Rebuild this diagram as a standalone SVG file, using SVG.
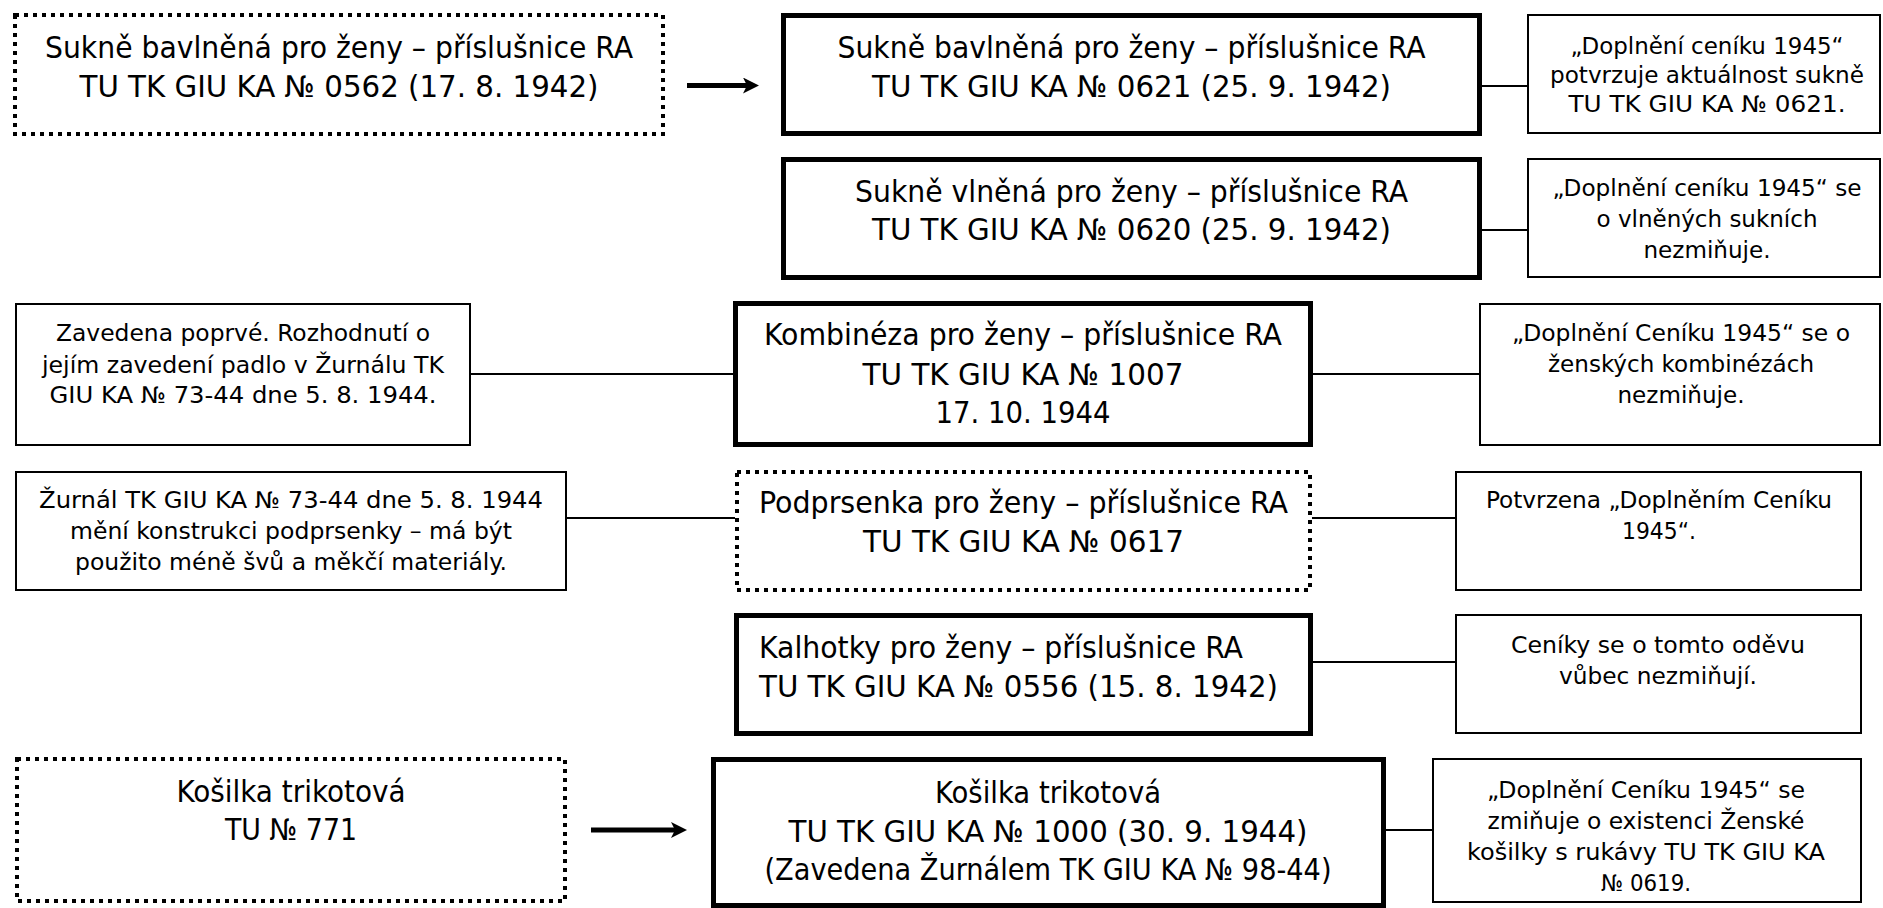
<svg xmlns="http://www.w3.org/2000/svg" width="1883" height="908" viewBox="0 0 1883 908">
<style>
text{font-family:"DejaVu Sans Condensed","DejaVu Sans",sans-serif;fill:#000}
.m{font-size:30px;text-anchor:middle}
.ml{font-size:30px;text-anchor:start}
.n{font-size:23px;text-anchor:middle}
.thick{fill:#fff;stroke:#000;stroke-width:5}
.dot{fill:#fff;stroke:#000;stroke-width:4;stroke-dasharray:4 5}
.note{fill:#fff;stroke:#000;stroke-width:2}
.con{stroke:#000;stroke-width:2;fill:none}
.arr{stroke:#000;stroke-width:5;fill:none;marker-end:url(#ah)}
</style>
<defs>
<marker id="ah" viewBox="0 0 16 16" refX="8" refY="8" markerWidth="16" markerHeight="16" markerUnits="userSpaceOnUse" orient="auto">
<path d="M0,0 L16,8 L0,16 L4,8 Z" fill="#000"/>
</marker>
</defs>
<rect width="1883" height="908" fill="#fff"/>

<g id="connectors">
<line class="arr" x1="687" y1="85.5" x2="751" y2="85.5"/>
<line class="arr" x1="591" y1="830" x2="679" y2="830"/>
<line class="con" x1="1482" y1="86" x2="1528" y2="86"/>
<line class="con" x1="1482" y1="230" x2="1528" y2="230"/>
<line class="con" x1="471" y1="374" x2="733" y2="374"/>
<line class="con" x1="1313" y1="374" x2="1479" y2="374"/>
<line class="con" x1="567" y1="518" x2="735" y2="518"/>
<line class="con" x1="1312" y1="518" x2="1455" y2="518"/>
<line class="con" x1="1313" y1="662" x2="1455" y2="662"/>
<line class="con" x1="1386" y1="830" x2="1432" y2="830"/>
</g>

<g id="node-skirt-cotton-old">
<rect class="dot" x="15" y="15" width="648" height="119"/>
<text class="m" x="339" y="58" textLength="588" lengthAdjust="spacingAndGlyphs">Sukně bavlněná pro ženy – příslušnice RA</text>
<text class="m" x="339" y="97" textLength="519" lengthAdjust="spacingAndGlyphs">TU TK GIU KA № 0562 (17. 8. 1942)</text>
</g>

<g id="node-skirt-cotton">
<rect class="thick" x="783.5" y="15.5" width="696" height="118"/>
<text class="m" x="1131.5" y="58" textLength="588" lengthAdjust="spacingAndGlyphs">Sukně bavlněná pro ženy – příslušnice RA</text>
<text class="m" x="1131.5" y="97" textLength="519" lengthAdjust="spacingAndGlyphs">TU TK GIU KA № 0621 (25. 9. 1942)</text>
</g>

<g id="note-skirt-cotton">
<rect class="note" x="1528" y="15" width="352" height="118"/>
<text class="n" x="1707" y="54" textLength="273" lengthAdjust="spacingAndGlyphs">„Doplnění ceníku 1945“</text>
<text class="n" x="1707" y="83" textLength="314" lengthAdjust="spacingAndGlyphs">potvrzuje aktuálnost sukně</text>
<text class="n" x="1707" y="112" textLength="277" lengthAdjust="spacingAndGlyphs">TU TK GIU KA № 0621.</text>
</g>

<g id="node-skirt-wool">
<rect class="thick" x="783.5" y="159.5" width="696" height="118"/>
<text class="m" x="1131.5" y="202" textLength="553" lengthAdjust="spacingAndGlyphs">Sukně vlněná pro ženy – příslušnice RA</text>
<text class="m" x="1131.5" y="240" textLength="519" lengthAdjust="spacingAndGlyphs">TU TK GIU KA № 0620 (25. 9. 1942)</text>
</g>

<g id="note-skirt-wool">
<rect class="note" x="1528" y="159" width="352" height="118"/>
<text class="n" x="1707" y="196" textLength="309" lengthAdjust="spacingAndGlyphs">„Doplnění ceníku 1945“ se</text>
<text class="n" x="1707" y="227" textLength="221" lengthAdjust="spacingAndGlyphs">o vlněných sukních</text>
<text class="n" x="1707" y="258" textLength="127" lengthAdjust="spacingAndGlyphs">nezmiňuje.</text>
</g>

<g id="note-overall-left">
<rect class="note" x="16" y="304" width="454" height="141"/>
<text class="n" x="243" y="341" textLength="374" lengthAdjust="spacingAndGlyphs">Zavedena poprvé. Rozhodnutí o</text>
<text class="n" x="243" y="373" textLength="402" lengthAdjust="spacingAndGlyphs">jejím zavedení padlo v Žurnálu TK</text>
<text class="n" x="243" y="403" textLength="387" lengthAdjust="spacingAndGlyphs">GIU KA № 73-44 dne 5. 8. 1944.</text>
</g>

<g id="node-overall">
<rect class="thick" x="735.5" y="303.5" width="575" height="141"/>
<text class="m" x="1023" y="345" textLength="518" lengthAdjust="spacingAndGlyphs">Kombinéza pro ženy – příslušnice RA</text>
<text class="m" x="1023" y="385" textLength="321" lengthAdjust="spacingAndGlyphs">TU TK GIU KA № 1007</text>
<text class="m" x="1023" y="423" textLength="175" lengthAdjust="spacingAndGlyphs">17. 10. 1944</text>
</g>

<g id="note-overall-right">
<rect class="note" x="1480" y="304" width="400" height="141"/>
<text class="n" x="1681" y="341" textLength="338" lengthAdjust="spacingAndGlyphs">„Doplnění Ceníku 1945“ se o</text>
<text class="n" x="1681" y="372" textLength="266" lengthAdjust="spacingAndGlyphs">ženských kombinézách</text>
<text class="n" x="1681" y="403" textLength="127" lengthAdjust="spacingAndGlyphs">nezmiňuje.</text>
</g>

<g id="note-bra-left">
<rect class="note" x="16" y="472" width="550" height="118"/>
<text class="n" x="291" y="508" textLength="504" lengthAdjust="spacingAndGlyphs">Žurnál TK GIU KA № 73-44 dne 5. 8. 1944</text>
<text class="n" x="291" y="539" textLength="442" lengthAdjust="spacingAndGlyphs">mění konstrukci podprsenky – má být</text>
<text class="n" x="291" y="570" textLength="432" lengthAdjust="spacingAndGlyphs">použito méně švů a měkčí materiály.</text>
</g>

<g id="node-bra">
<rect class="dot" x="737" y="472" width="573" height="118"/>
<text class="m" x="1023.5" y="513" textLength="529" lengthAdjust="spacingAndGlyphs">Podprsenka pro ženy – příslušnice RA</text>
<text class="m" x="1023.5" y="552" textLength="321" lengthAdjust="spacingAndGlyphs">TU TK GIU KA № 0617</text>
</g>

<g id="note-bra-right">
<rect class="note" x="1456" y="472" width="405" height="118"/>
<text class="n" x="1659" y="508" textLength="346" lengthAdjust="spacingAndGlyphs">Potvrzena „Doplněním Ceníku</text>
<text class="n" x="1659" y="539" textLength="74" lengthAdjust="spacingAndGlyphs">1945“.</text>
</g>

<g id="node-panties">
<rect class="thick" x="736.5" y="615.5" width="574" height="118"/>
<text class="ml" x="759" y="658" textLength="484" lengthAdjust="spacingAndGlyphs">Kalhotky pro ženy – příslušnice RA</text>
<text class="ml" x="759" y="697" textLength="519" lengthAdjust="spacingAndGlyphs">TU TK GIU KA № 0556 (15. 8. 1942)</text>
</g>

<g id="note-panties">
<rect class="note" x="1456" y="615" width="405" height="118"/>
<text class="n" x="1658" y="653" textLength="294" lengthAdjust="spacingAndGlyphs">Ceníky se o tomto oděvu</text>
<text class="n" x="1658" y="684" textLength="198" lengthAdjust="spacingAndGlyphs">vůbec nezmiňují.</text>
</g>

<g id="node-shirt-old">
<rect class="dot" x="17" y="759" width="548" height="142"/>
<text class="m" x="291" y="802" textLength="229" lengthAdjust="spacingAndGlyphs">Košilka trikotová</text>
<text class="m" x="291" y="840" textLength="132" lengthAdjust="spacingAndGlyphs">TU № 771</text>
</g>

<g id="node-shirt">
<rect class="thick" x="713.5" y="759.5" width="670" height="146"/>
<text class="m" x="1048" y="803" textLength="226" lengthAdjust="spacingAndGlyphs">Košilka trikotová</text>
<text class="m" x="1048" y="842" textLength="519" lengthAdjust="spacingAndGlyphs">TU TK GIU KA № 1000 (30. 9. 1944)</text>
<text class="m" x="1048" y="880" textLength="567" lengthAdjust="spacingAndGlyphs">(Zavedena Žurnálem TK GIU KA № 98-44)</text>
</g>

<g id="note-shirt">
<rect class="note" x="1433" y="759" width="428" height="143"/>
<text class="n" x="1646" y="798" textLength="318" lengthAdjust="spacingAndGlyphs">„Doplnění Ceníku 1945“ se</text>
<text class="n" x="1646" y="829" textLength="317" lengthAdjust="spacingAndGlyphs">zmiňuje o existenci Ženské</text>
<text class="n" x="1646" y="860" textLength="358" lengthAdjust="spacingAndGlyphs">košilky s rukávy TU TK GIU KA</text>
<text class="n" x="1646" y="891" textLength="90" lengthAdjust="spacingAndGlyphs">№ 0619.</text>
</g>
</svg>
